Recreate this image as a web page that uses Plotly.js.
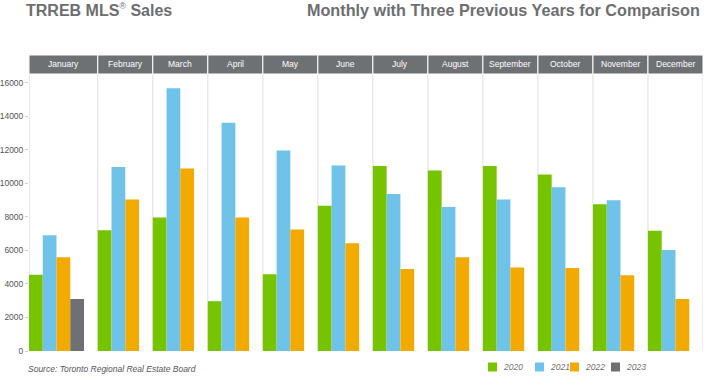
<!DOCTYPE html>
<html>
<head>
<meta charset="utf-8">
<script src="https://cdn.plot.ly/plotly-3.0.1.min.js"></script>
<style>html,body{margin:0;padding:0;background:#fff;}#chart{width:708px;height:378px;}</style>
</head>
<body>
<div id="chart"></div>
<script>
const months = ["January","February","March","April","May","June","July","August","September","October","November","December"];
const years = ["2020","2021","2022","2023"];
const sales2020 = [4550, 7200, 7950, 2970, 4570, 8650, 11030, 10760, 11030, 10520, 8750, 7160];
const sales2021 = [6900, 10970, 15660, 13600, 11950, 11050, 9360, 8590, 9030, 9760, 8990, 6020];
const sales2022 = [5590, 9030, 10870, 7950, 7240, 6420, 4890, 5590, 4970, 4950, 4510, 3100];
const sales2023 = [3100, null, null, null, null, null, null, null, null, null, null, null];
const yTicks = [0, 2000, 4000, 6000, 8000, 10000, 12000, 14000, 16000];

const series = [sales2020, sales2021, sales2022, sales2023];
const colors = ["#76c400", "#70c3e8", "#f2a900", "#6e7073"];

// slot layout: each month gets one slot per present series plus one gap slot
const xs = series.map(() => []);
const bounds = [0];
let start = 0;
months.forEach((m, i) => {
  let k = 0;
  series.forEach((s, j) => {
    if (s[i] !== null && s[i] !== undefined) { xs[j].push(start + k + 0.5); k++; }
    else xs[j].push(null);
  });
  start += k + 1;
  bounds.push(start);
});
const xMax = start;

const traces = series.map((s, j) => ({
  type: "bar",
  name: years[j],
  x: xs[j],
  y: s,
  width: 1,
  marker: {color: colors[j], line: {width: 0}},
  hoverinfo: "y+name",
  showlegend: false
}));

const W = 708, H = 378, L = 29, R = 5, T = 75, B = 27;
const pw = W - L - R, ph = H - T - B;
const px = p => (p - L) / pw;
const py = p => (H - B - p) / ph;
const FONT = "Liberation Sans, Arial, sans-serif";

const shapes = [];
const annotations = [];
months.forEach((m, i) => {
  shapes.push({type: "rect", xref: "x", yref: "paper", x0: bounds[i], x1: bounds[i + 1],
    y0: py(74), y1: py(55), fillcolor: "#6e7174", line: {color: "#ffffff", width: 1}, layer: "above"});
  annotations.push({xref: "x", yref: "paper", x: (bounds[i] + bounds[i + 1]) / 2, y: py(64.5),
    text: m, showarrow: false, xanchor: "center", yanchor: "middle",
    font: {family: FONT, size: 8.5, color: "#ffffff"}});
});
bounds.forEach((b, i) => {
  shapes.push({type: "line", xref: "x", yref: "paper", x0: b, x1: b, y0: 0, y1: py(74),
    line: {color: i === 0 ? "#d0d0d0" : "#dedede", width: 1}, layer: "below"});
});

// legend (drawn as swatches + labels)
const legendX = [488, 535, 570, 611];
years.forEach((yr, j) => {
  shapes.push({type: "rect", xref: "paper", yref: "paper", x0: px(legendX[j]), x1: px(legendX[j] + 9),
    y0: py(371.5), y1: py(362.5), fillcolor: colors[j], line: {width: 0}});
  annotations.push({xref: "paper", yref: "paper", x: px(legendX[j] + 13), y: py(367), xanchor: "left", yanchor: "middle",
    text: yr, showarrow: false, font: {family: FONT, size: 8.5, color: "#707070", style: "italic"}});
});

annotations.push({xref: "paper", yref: "paper", x: px(24), y: py(10), xanchor: "left", yanchor: "middle",
  text: "<b>TRREB MLS</b><sup><span style=\"font-size:9px\">®</span></sup><b> Sales</b>", showarrow: false,
  font: {family: FONT, size: 16, color: "#6d6e70"}});
annotations.push({xref: "paper", yref: "paper", x: px(702), y: py(10), xanchor: "right", yanchor: "middle",
  text: "<b>Monthly with Three Previous Years for Comparison</b>", showarrow: false,
  font: {family: FONT, size: 16.2, color: "#6d6e70"}});
annotations.push({xref: "paper", yref: "paper", x: px(26), y: py(369), xanchor: "left", yanchor: "middle",
  text: "Source: Toronto Regional Real Estate Board", showarrow: false,
  font: {family: FONT, size: 8.5, color: "#555555", style: "italic"}});

const layout = {
  width: W, height: H,
  margin: {l: L, r: R, t: T, b: B, pad: 0},
  paper_bgcolor: "#ffffff", plot_bgcolor: "#ffffff",
  barmode: "overlay",
  showlegend: false,
  xaxis: {range: [0, xMax], showticklabels: false, showgrid: false, zeroline: false, showline: false, ticks: "", fixedrange: true},
  yaxis: {range: [0, 16450], tickvals: yTicks, ticktext: yTicks.map(String), showgrid: false, zeroline: false,
    showline: false, ticks: "outside", ticklen: 3, tickcolor: "#cccccc",
    tickfont: {family: FONT, size: 8.5, color: "#555555"}, fixedrange: true},
  shapes: shapes,
  annotations: annotations
};

Plotly.newPlot("chart", traces, layout, {displayModeBar: false, staticPlot: true});
</script>
</body>
</html>
